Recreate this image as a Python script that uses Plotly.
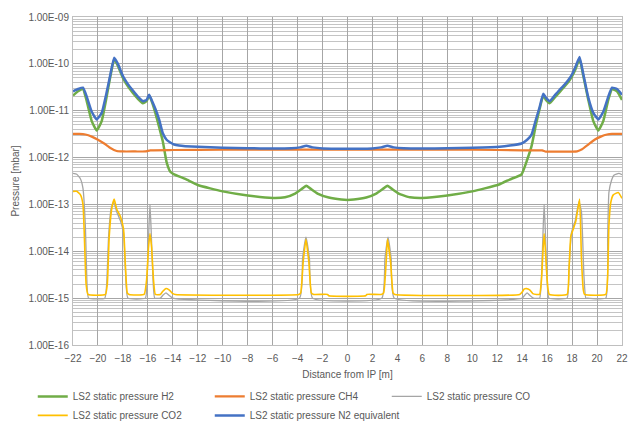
import plotly.graph_objects as go

# ---------------- data ----------------
x_h2 = [-22, -21.6, -21.2, -20.9, -20.5, -20.1, -19.7, -19.3, -19.0, -18.7, -18.4, -18.0, -17.6, -17.2,
        -16.8, -16.4, -16.1, -15.9, -15.7, -15.4, -15.1, -14.8, -14.5, -14.2, -13.9, -13.0, -12.0, -11.0,
        -10.0, -8.0, -6.0, -5.0, -4.2, -3.6, -3.3, -3.0, -2.4, -1.5, -0.5, 0.0,
        0.5, 1.5, 2.3, 2.9, 3.2, 3.5, 4.1, 5.0, 6.0, 8.0, 10.0, 11.0, 12.2, 13.0, 13.95, 14.4, 14.75,
        15.1, 15.4, 15.69, 15.9, 16.2, 16.6, 17.0, 17.4, 17.7, 18.0, 18.3, 18.6, 18.9, 19.3, 19.7, 20.1,
        20.5, 20.9, 21.2, 21.6, 22]
y_h2 = [2.1e-11, 2.6e-11, 2.9e-11, 1.6e-11, 6e-12, 3.8e-12, 6e-12, 2.0e-11, 5.5e-11, 1.25e-10, 9e-11, 5e-11,
        3.3e-11, 2.4e-11, 1.8e-11, 1.45e-11, 1.6e-11, 2.1e-11, 1.6e-11, 9e-12, 4.5e-12, 2.2e-12, 8e-13,
        5e-13, 4.4e-13, 3.5e-13, 2.6e-13, 2.2e-13, 1.9e-13, 1.55e-13, 1.37e-13, 1.42e-13, 1.7e-13,
        2.2e-13, 2.5e-13, 2.2e-13, 1.7e-13, 1.4e-13, 1.27e-13, 1.25e-13,
        1.27e-13, 1.4e-13, 1.7e-13, 2.2e-13, 2.5e-13, 2.2e-13, 1.7e-13, 1.42e-13, 1.37e-13, 1.55e-13,
        1.9e-13, 2.2e-13, 2.7e-13, 3.4e-13, 4.4e-13, 9e-13, 1.75e-12, 5e-12, 1.1e-11, 2.1e-11, 1.7e-11,
        1.45e-11, 1.9e-11, 2.5e-11, 3.3e-11, 4.1e-11, 5.5e-11, 8e-11, 1.3e-10, 5.5e-11, 1.7e-11, 6e-12,
        3.8e-12, 6e-12, 1.7e-11, 2.9e-11, 2.6e-11, 1.7e-11]

x_ch4 = [-22, -21.5, -21.0, -20.5, -20.0, -19.5, -19.0, -18.5, -18.0, -17.0, -16.2, -15.8, -14.0, -10.0,
         -4.0, 0.0, 4.0, 10.0, 14.0, 15.6, 15.9, 17.0, 18.4, 18.8, 19.3, 19.8, 20.3, 20.8, 21.2, 22]
y_ch4 = [3.2e-12, 3.2e-12, 3.1e-12, 2.8e-12, 2.4e-12, 2.0e-12, 1.6e-12, 1.38e-12, 1.35e-12, 1.35e-12,
         1.35e-12, 1.43e-12, 1.45e-12, 1.47e-12, 1.48e-12, 1.48e-12, 1.48e-12, 1.47e-12, 1.43e-12,
         1.42e-12, 1.34e-12, 1.34e-12, 1.36e-12, 1.5e-12, 1.9e-12, 2.4e-12, 2.8e-12, 3.1e-12, 3.2e-12,
         3.2e-12]

x_co = [-22, -21.7, -21.4, -21.2, -21.0, -20.9, -20.75, -19.45, -19.3, -19.15, -18.95, -18.75, -18.5,
        -18.2, -17.95, -17.8, -17.6, -16.2, -16.05, -15.92, -15.83, -15.74, -15.6, -15.45, -15.0, -14.8,
        -14.55, -14.3, -14.0, -3.85, -3.6, -3.33, -3.05, -2.8, 2.75, 3.0, 3.25, 3.5, 3.75,
        14.0, 14.2, 14.4, 14.6, 14.9, 15.4, 15.55, 15.68, 15.76, 15.85, 15.98, 16.15, 17.6, 17.75,
        17.95, 18.25, 18.55, 18.75, 18.95, 19.1, 19.25, 20.7, 20.85, 20.95, 21.15, 21.35, 21.75, 22]
y_co = [4.6e-13, 4.4e-13, 3.5e-13, 2.2e-13, 3e-14, 3e-15, 1.0e-15, 1.0e-15, 2e-15, 2e-14, 8e-14, 1.15e-13,
        7e-14, 4.5e-14, 2.5e-14, 4e-15, 1.0e-15, 1.0e-15, 3e-15, 3e-14, 1e-13, 3e-14, 3e-15, 1.0e-15,
        1.0e-15, 1.15e-15, 1.3e-15, 1.15e-15, 1.0e-15, 1.0e-15, 7e-15, 2e-14, 7e-15, 1.0e-15, 1.0e-15,
        7e-15, 2e-14, 7e-15, 1.0e-15,
        1.0e-15, 1.15e-15, 1.3e-15, 1.15e-15, 1.0e-15, 1.0e-15, 3e-15, 3e-14, 1e-13, 3e-14, 3e-15,
        1.0e-15, 1.0e-15, 4e-15, 2.5e-14, 4.5e-14, 1.15e-13, 7e-14, 3e-15, 1.0e-15, 1.0e-15, 1.0e-15,
        2e-14, 1.8e-13, 3.2e-13, 4.2e-13, 4.6e-13, 4.3e-13]

x_co2 = [-22, -21.7, -21.4, -21.2, -21.05, -20.95, -20.8, -19.4, -19.25, -19.1, -18.9, -18.7, -18.5,
         -18.2, -17.95, -17.8, -17.65, -17.5, -16.3, -16.1, -15.95, -15.83, -15.7, -15.55, -15.4, -15.0,
         -14.8, -14.55, -14.3, -14.0, -13.8, -3.9, -3.75, -3.55, -3.33, -3.1, -2.9, -2.7, -1.6, -1.5,
         1.45, 1.55, 2.7, 2.9, 3.1, 3.2, 3.45, 3.65, 3.8, 13.8, 14.0, 14.15, 14.35, 14.6, 14.85, 15.15,
         15.4, 15.55, 15.68, 15.76, 15.85, 16.0, 16.17, 17.6, 17.75, 17.9, 18.1, 18.3, 18.6, 18.75, 18.9,
         19.0, 20.7, 20.85, 20.95, 21.1, 21.3, 21.7, 22]
y_co2 = [1.9e-13, 1.9e-13, 1.6e-13, 1.0e-13, 1e-14, 2e-15, 1.2e-15, 1.2e-15, 2e-15, 2e-14, 8e-14, 1.3e-13,
         8e-14, 5.5e-14, 3e-14, 5e-15, 1.3e-15, 1.2e-15, 1.2e-15, 2.5e-15, 1.2e-14, 2.4e-14, 1.2e-14,
         2.5e-15, 1.2e-15, 1.2e-15, 1.4e-15, 1.6e-15, 1.5e-15, 1.25e-15, 1.2e-15, 1.2e-15, 1.3e-15,
         6e-15, 1.8e-14, 6e-15, 1.3e-15, 1.2e-15, 1.2e-15, 1.12e-15,
         1.12e-15, 1.2e-15, 1.2e-15, 1.3e-15, 6e-15, 1.8e-14, 6e-15, 1.3e-15, 1.2e-15, 1.2e-15,
         1.35e-15, 1.55e-15, 1.6e-15, 1.5e-15, 1.25e-15, 1.2e-15, 1.2e-15, 2.5e-15, 1.2e-14, 2.4e-14,
         1.2e-14, 2.5e-15, 1.2e-15, 1.2e-15, 4e-15, 2.1e-14, 3e-14, 4.4e-14, 1.3e-13, 7e-15, 1.5e-15,
         1.2e-15, 1.2e-15, 3e-15, 3.5e-14, 1.1e-13, 1.6e-13, 1.8e-13, 1.35e-13]

x_n2 = [-22, -21.6, -21.2, -20.9, -20.5, -20.1, -19.7, -19.3, -19.0, -18.7, -18.4, -18.0, -17.6, -17.2,
        -16.8, -16.4, -16.1, -15.9, -15.7, -15.4, -15.1, -14.8, -14.5, -14.2, -13.9, -13.5, -13.0, -12.0,
        -10.0, -8.0, -6.0, -4.5, -3.8, -3.3, -2.8, -2.0, 0.0, 2.0, 2.7, 3.2, 3.7, 4.5, 6.0, 8.0, 10.0,
        12.2, 13.0, 13.95, 14.4, 14.75, 15.1, 15.4, 15.69, 15.9, 16.2, 16.6, 17.0, 17.4, 17.7, 18.0,
        18.3, 18.6, 18.9, 19.3, 19.7, 20.1, 20.5, 20.9, 21.2, 21.6, 22]
y_n2 = [2.6e-11, 2.9e-11, 3.1e-11, 2.0e-11, 9.5e-12, 6.5e-12, 9e-12, 2.5e-11, 6e-11, 1.35e-10, 1.0e-10,
        5.5e-11, 3.7e-11, 2.7e-11, 2.0e-11, 1.6e-11, 1.7e-11, 2.2e-11, 1.7e-11, 1.1e-11, 6.5e-12,
        3.3e-12, 2.4e-12, 2.1e-12, 1.9e-12, 1.8e-12, 1.75e-12, 1.7e-12, 1.62e-12, 1.58e-12, 1.56e-12,
        1.58e-12, 1.65e-12, 1.78e-12, 1.65e-12, 1.57e-12, 1.55e-12, 1.57e-12, 1.65e-12, 1.78e-12,
        1.65e-12, 1.58e-12, 1.56e-12, 1.58e-12, 1.62e-12, 1.7e-12, 1.8e-12, 2.0e-12, 2.4e-12, 3.1e-12,
        6.5e-12, 1.2e-11, 2.3e-11, 1.9e-11, 1.6e-11, 2.1e-11, 2.8e-11, 3.6e-11, 4.5e-11, 6e-11, 9e-11,
        1.4e-10, 6e-11, 1.9e-11, 9e-12, 6.5e-12, 9.5e-12, 2.0e-11, 3.1e-11, 2.9e-11, 2.2e-11]

y_tick_vals = [1e-16, 1e-15, 1e-14, 1e-13, 1e-12, 1e-11, 1e-10, 1e-9]
y_tick_text = ["1.00E-16", "1.00E-15", "1.00E-14", "1.00E-13", "1.00E-12", "1.00E-11", "1.00E-10", "1.00E-09"]
x_tick_vals = list(range(-22, 23, 2))

names = ["LS2 static pressure H2", "LS2 static pressure CH4", "LS2 static pressure CO",
         "LS2 static pressure CO2", "LS2 static pressure N2 equivalent"]

# ---------------- figure ----------------
FONT = "Liberation Sans, Arial, sans-serif"
TXT = "#595959"

fig = go.Figure()
series = [
    (x_h2, y_h2, names[0], "#70AD47", 2.5),
    (x_ch4, y_ch4, names[1], "#ED7D31", 2.2),
    (x_co, y_co, names[2], "#A5A5A5", 1.3),
    (x_co2, y_co2, names[3], "#FFC000", 1.6),
    (x_n2, y_n2, names[4], "#4472C4", 2.5),
]
for xs, ys, nm, col, w in series:
    fig.add_trace(go.Scatter(x=xs, y=ys, name=nm, mode="lines",
                             line=dict(color=col, width=w, shape="spline", smoothing=0.4)))

minor_vals = [m * 10.0 ** e for e in range(-16, -9) for m in range(2, 10)]

fig.update_layout(
    width=630, height=422,
    margin=dict(l=73, r=8, t=17, b=77, autoexpand=False),
    paper_bgcolor="white", plot_bgcolor="white",
    font=dict(family=FONT, size=10, color=TXT),
    showlegend=True,
    legend=dict(orientation="h", xref="container", yref="container",
                x=0.052, y=0.095, xanchor="left", yanchor="top",
                entrywidth=132, entrywidthmode="pixels",
                font=dict(family=FONT, size=10, color=TXT),
                itemwidth=30, tracegroupgap=0, traceorder="normal"),
    xaxis=dict(range=[-22, 22], tickvals=x_tick_vals, showgrid=True, gridcolor="#a6a6a6", gridwidth=1,
               zeroline=False, showline=True, linecolor="#bfbfbf", mirror=True, ticks="",
               tickfont=dict(size=10, color=TXT), ticklabelstandoff=4, automargin=False,
               title=dict(text="Distance from IP [m]", font=dict(size=10, color=TXT), standoff=7)),
    yaxis=dict(type="log", range=[-16, -9], tickvals=y_tick_vals, ticktext=y_tick_text,
               showgrid=True, gridcolor="#a6a6a6", gridwidth=1, zeroline=False,
               showline=True, linecolor="#bfbfbf", mirror=True, ticks="", automargin=False,
               tickfont=dict(size=10, color=TXT), ticklabelstandoff=1,
               minor=dict(tickvals=minor_vals, showgrid=True, gridcolor="#c4c4c4", gridwidth=1),
               title=dict(text="Pressure [mbar]", font=dict(size=10, color=TXT), standoff=6)),
)

fig.write_html("out.html", config={"displayModeBar": False},
               post_script="document.body.style.margin='0px';")
